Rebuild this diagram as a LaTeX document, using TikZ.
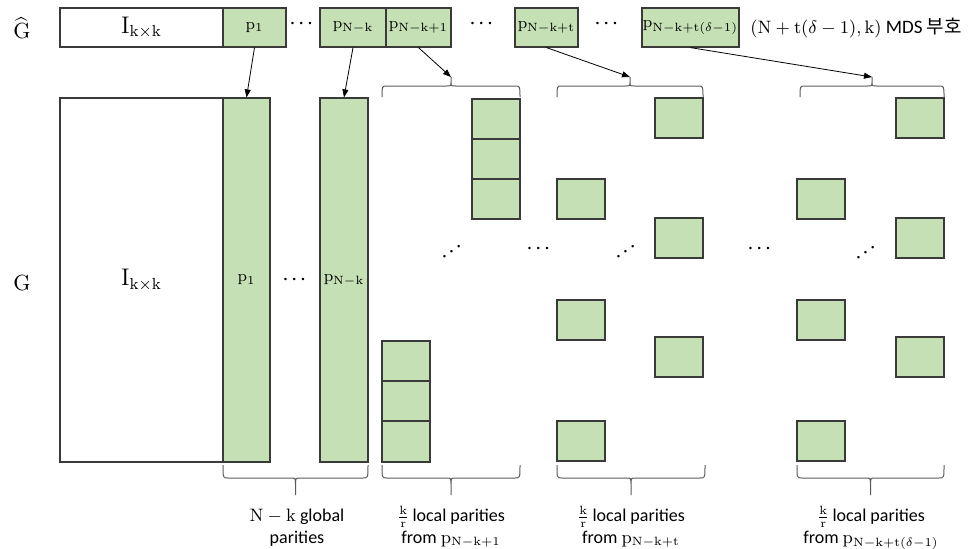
\documentclass[tikz,border=0pt]{standalone}
\usepackage[no-math]{fontspec}
\usepackage{amsmath}
\setmainfont{Carlito}
\newfontfamily\kofont{Noto Sans CJK KR}
\usetikzlibrary{fit,arrows.meta}
\definecolor{cellgreen}{HTML}{C5E0B4}
\definecolor{edgegray}{HTML}{3A3A3A}
\definecolor{bracegray}{HTML}{5A5A5A}

\tikzset{
  idbox/.style={draw=edgegray, line width=0.6pt, fill=white, inner sep=0pt},
  parbox/.style={draw=edgegray, line width=0.6pt, fill=cellgreen, inner sep=0pt},
  ptext/.style={font=\fontsize{8}{9}\selectfont},
  itext/.style={font=\fontsize{12}{14}\selectfont},
  braceline/.style={draw=bracegray, line width=0.5pt},
  feed/.style={-{Triangle[length=4pt,width=3pt]}, line width=0.4pt},
  lbl/.style={font=\fontsize{9}{11}\selectfont, align=center},
  mat/.style={font=\fontsize{11}{13}\selectfont},
  dd/.style={inner sep=0pt, font=\fontsize{8}{9}\selectfont\boldmath},
}
% word style brace: x1, x2, y of ends, y of line, y of tip
\newcommand{\wordbrace}[5]{%
  \pgfmathsetmacro\bxm{(#1+#2)/2}%
  \pgfmathsetmacro\byc{#4+0.4*(#5-#4)}%
  \draw[braceline] (#1,#3) .. controls (#1,#4) .. (#1+5,#4) -- (\bxm-5,#4)
    .. controls (\bxm,#4) .. (\bxm,\byc) -- (\bxm,#5)
    (\bxm,\byc) .. controls (\bxm,#4) .. (\bxm+5,#4) -- (#2-5,#4)
    .. controls (#2,#4) .. (#2,#3);}

\begin{document}
\begin{tikzpicture}[x=0.5pt,y=-0.5pt]
\useasboundingbox (0,0) rectangle (975,548);

% generator of the MDS code
\node[mat] (Ghat) at (22,28) {$\widehat{\mathrm{G}}$};
\node[idbox, fit={(60,8) (223,47)}, label={[itext]center:$\mathrm{I}_{\mathrm{k\times k}}$}] (Itop) {};
\node[parbox, fit={(223,8) (286,47)}, label={[ptext]center:$\mathrm{p}_{1}$}] (p1top) {};
\node[parbox, fit={(320,8) (386,47)}, label={[ptext]center:$\mathrm{p}_{\mathrm{N-k}}$}] (pNktop) {};
\node[parbox, fit={(386,8) (451,47)}, label={[ptext]center:$\mathrm{p}_{\mathrm{N-k+1}}$}] (pNkatop) {};
\node[parbox, fit={(515,8) (578,47)}, label={[ptext]center:$\mathrm{p}_{\mathrm{N-k+t}}$}] (pNkttop) {};
\node[parbox, fit={(642,8) (739,47)}, label={[ptext]center:$\mathrm{p}_{\mathrm{N-k+t(}\delta\mathrm{-1)}}$}] (pNkdtop) {};
\node[dd] (dotsA) at (303,24) {$\cdots$};
\node[dd] (dotsB) at (483,24) {$\cdots$};
\node[dd] (dotsC) at (608,24) {$\cdots$};
\node[anchor=west, inner sep=0pt, font=\fontsize{9.5}{11}\selectfont] (mds) at (750,28)
  {$(\mathrm{N}+\mathrm{t}(\delta-1),\mathrm{k})$ MDS {\kofont 부호}};

% generator of the local code
\node[mat] (G) at (22,283) {$\mathrm{G}$};
\node[idbox, fit={(60,98) (223,462)}, label={[itext]center:$\mathrm{I}_{\mathrm{k\times k}}$}] (Ibot) {};
\node[parbox, fit={(223,98) (270,462)}, label={[ptext]center:$\mathrm{p}_{1}$}] (p1col) {};
\node[parbox, fit={(320,98) (368,462)}, label={[ptext]center:$\mathrm{p}_{\mathrm{N-k}}$}] (pNkcol) {};
\node[dd] (dotsD) at (296,280) {$\cdots$};

% local parities from p_{N-k+1}
\foreach \y [count=\i] in {99,139,179}
  \node[parbox, fit={(472,\y) (520,\y+40)}] (locAtop\i) {};
\foreach \y [count=\i] in {341,381,421}
  \node[parbox, fit={(382,\y) (430,\y+41)}] (locAbot\i) {};
\node[dd, rotate=35] (ddA) at (453,251) {$\cdots$};
\node[dd] (dotsE) at (540,249) {$\cdots$};

% local parities from p_{N-k+t}
\foreach \y [count=\i] in {179,300,421}
  \node[parbox, fit={(557,\y) (605,\y+40)}] (locBl\i) {};
\foreach \y [count=\i] in {98,218,337}
  \node[parbox, fit={(655,\y) (703,\y+40)}] (locBr\i) {};
\node[dd, rotate=35] (ddB) at (627,251) {$\cdots$};
\node[dd] (dotsF) at (761,249) {$\cdots$};

% local parities from p_{N-k+t(delta-1)}
\foreach \y [count=\i] in {179,300,421}
  \node[parbox, fit={(797,\y) (845,\y+40)}] (locCl\i) {};
\foreach \y [count=\i] in {98,218,337}
  \node[parbox, fit={(896,\y) (944,\y+40)}] (locCr\i) {};
\node[dd, rotate=35] (ddC) at (867,252) {$\cdots$};

% braces
\wordbrace{382}{520}{97}{86}{77}
\wordbrace{557}{703}{97}{86}{77}
\wordbrace{800}{944}{97}{86}{77}
\coordinate (tipA) at (451,77);
\coordinate (tipB) at (630,77);
\coordinate (tipC) at (872,77);
\wordbrace{223}{368}{465}{478}{495}
\wordbrace{382}{520}{465}{478}{495}
\wordbrace{557}{705}{465}{478}{495}
\wordbrace{797}{944}{465}{478}{495}

% arrows
\draw[feed] (p1top.south) -- (p1col.north);
\draw[feed] (pNktop.south) -- (pNkcol.north);
\draw[feed] (pNkatop.south) -- (tipA);
\draw[feed] (pNkttop.south) -- (tipB);
\draw[feed] (pNkdtop.south) -- (tipC);

% captions
\node[lbl, anchor=north] (capG) at (297,502) {$\mathrm{N}-\mathrm{k}$ global\\parities};
\node[lbl, anchor=north] (capA) at (451,499) {$\frac{\mathrm{k}}{\mathrm{r}}$\,local parities\\from $\mathrm{p}_{\mathrm{N-k+1}}$};
\node[lbl, anchor=north] (capB) at (631,499) {$\frac{\mathrm{k}}{\mathrm{r}}$\,local parities\\from $\mathrm{p}_{\mathrm{N-k+t}}$};
\node[lbl, anchor=north] (capC) at (871,499) {$\frac{\mathrm{k}}{\mathrm{r}}$\,local parities\\from $\mathrm{p}_{\mathrm{N-k+t(}\delta\mathrm{-1)}}$};
\end{tikzpicture}
\end{document}
